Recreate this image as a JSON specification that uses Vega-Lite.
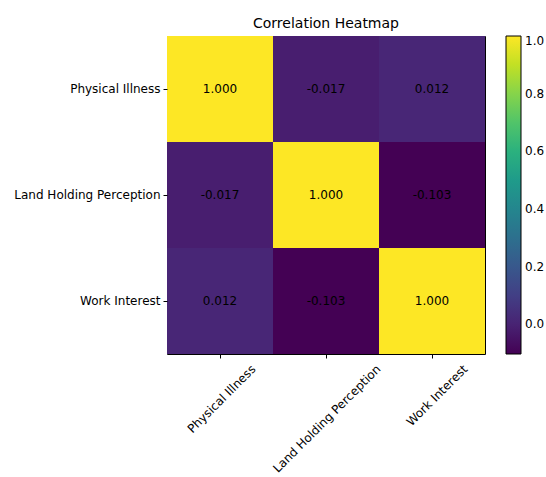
{
  "$schema": "https://vega.github.io/schema/vega-lite/v6.json",
  "autosize": "none",
  "width": 318,
  "height": 318,
  "padding": {"left": 167, "top": 36, "right": 61, "bottom": 123},
  "background": "white",
  "title": {"text": "Correlation Heatmap", "fontSize": 14, "font": "DejaVu Sans", "fontWeight": "normal", "color": "black", "offset": 5},
  "config": {
    "font": "DejaVu Sans",
    "view": {"stroke": "black", "strokeWidth": 1},
    "axis": {"labelFont": "DejaVu Sans", "labelFontSize": 12, "labelColor": "black", "tickColor": "black", "tickSize": 4, "domain": false, "grid": false, "title": null}
  },
  "data": {"values": [
    {"row": "Physical Illness", "col": "Physical Illness", "v": 1.0},
    {"row": "Physical Illness", "col": "Land Holding Perception", "v": -0.017},
    {"row": "Physical Illness", "col": "Work Interest", "v": 0.012},
    {"row": "Land Holding Perception", "col": "Physical Illness", "v": -0.017},
    {"row": "Land Holding Perception", "col": "Land Holding Perception", "v": 1.0},
    {"row": "Land Holding Perception", "col": "Work Interest", "v": -0.103},
    {"row": "Work Interest", "col": "Physical Illness", "v": 0.012},
    {"row": "Work Interest", "col": "Land Holding Perception", "v": -0.103},
    {"row": "Work Interest", "col": "Work Interest", "v": 1.0}
  ]},
  "encoding": {
    "x": {"field": "col", "type": "nominal", "sort": ["Physical Illness", "Land Holding Perception", "Work Interest"],
          "scale": {"paddingInner": 0, "paddingOuter": 0},
          "axis": {"labelAngle": -45, "labelAlign": "right", "labelBaseline": "top", "labelPadding": 5,
                   "labelOffset": {"condition": {"test": "datum.label == 'Land Holding Perception'", "value": 49}, "value": 30}}},
    "y": {"field": "row", "type": "nominal", "sort": ["Physical Illness", "Land Holding Perception", "Work Interest"],
          "scale": {"paddingInner": 0, "paddingOuter": 0},
          "axis": {"labelPadding": 3}}
  },
  "layer": [
    {
      "mark": {"type": "rect"},
      "encoding": {
        "color": {"field": "v", "type": "quantitative",
                  "scale": {"scheme": "viridis", "domain": [-0.103, 1.0]},
                  "legend": {"title": null, "orient": "right", "offset": 21, "gradientLength": 318, "gradientThickness": 15,
                             "gradientStrokeColor": "black", "gradientStrokeWidth": 1,
                             "values": [0, 0.2, 0.4, 0.6, 0.8, 1.0], "format": ".1f",
                             "labelFontSize": 12, "labelColor": "black", "labelFont": "DejaVu Sans", "labelOffset": 4}}
      }
    },
    {
      "mark": {"type": "text", "fontSize": 12, "color": "black", "font": "DejaVu Sans",
               "text": {"expr": "replace(format(datum.v, '.3f'), '\u2212', '-')"}},
      "encoding": {}
    }
  ]
}
